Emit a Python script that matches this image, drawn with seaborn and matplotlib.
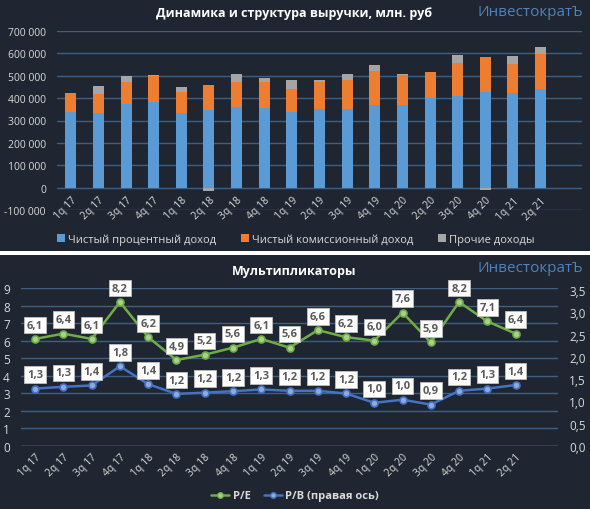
import numpy as np
import pandas as pd
import matplotlib
matplotlib.use("Agg")
import matplotlib.pyplot as plt
from matplotlib.lines import Line2D
from matplotlib.patches import Patch
import seaborn as sns

quarters = ["1q 17", "2q 17", "3q 17", "4q 17", "1q 18", "2q 18", "3q 18", "4q 18",
            "1q 19", "2q 19", "3q 19", "4q 19", "1q 20", "2q 20", "3q 20", "4q 20",
            "1q 21", "2q 21"]
interest_income = [336000, 332000, 374000, 384000, 333000, 348000, 359000, 354000,
                   336000, 351000, 351000, 369000, 369000, 399000, 411000, 426000,
                   421000, 441000]
commission_income = [85000, 86000, 100000, 116000, 96000, 111000, 115000, 120000,
                     105000, 120000, 132000, 150000, 135000, 117000, 146000, 157000,
                     133000, 156000]
other_income = [2000, 38000, 26000, 2000, 19000, -15000, 33000, 15000,
                39000, 12000, 25000, 27000, 3000, 2000, 36000, -10000,
                33000, 33000]
pe_values = [6.1, 6.4, 6.1, 8.2, 6.2, 4.9, 5.2, 5.6, 6.1, 5.6, 6.6, 6.2, 6.0, 7.6,
             5.9, 8.2, 7.1, 6.4]
pb_values = [1.29, 1.33, 1.36, 1.79, 1.39, 1.17, 1.20, 1.23, 1.27, 1.24, 1.24, 1.18,
             0.97, 1.04, 0.93, 1.24, 1.29, 1.37]
series_names = ["Чистый процентный доход", "Чистый комиссионный доход", "Прочие доходы"]
line_names = ["P/E", "P/B (правая ось)"]

BG = "#1f2631"
GRID = "#3f5f80"
TXT = "#d9d9d9"
BLUE = "#5b9bd5"
ORANGE = "#ed7d31"
GRAY = "#a5a5a5"
GREEN = "#70ad47"
LBLUE = "#4472c4"

sns.set_theme(style="dark")
plt.rcParams["font.family"] = ["Open Sans", "DejaVu Sans"]

fig = plt.figure(figsize=(5.9, 5.1), dpi=100)
fig.patch.set_facecolor("white")
# panel backgrounds
fig.add_artist(plt.Rectangle((0, 1 - 252 / 510), 1, 252 / 510, transform=fig.transFigure,
                             facecolor=BG, edgecolor="none", zorder=-10))
fig.add_artist(plt.Rectangle((0, 0), 1, 1 - 256 / 510, transform=fig.transFigure,
                             facecolor=BG, edgecolor="none", zorder=-10))

df = pd.DataFrame({"q": quarters, "interest": interest_income,
                   "commission": commission_income, "other": other_income})
bottom_comm = df["interest"].values
bottom_other = np.where(df["other"].values >= 0,
                        df["interest"].values + df["commission"].values, 0)

# ---------- top chart ----------
ax1 = fig.add_axes([57 / 590, 1 - 211 / 510, (582 - 57) / 590, (211 - 32) / 510])
ax1.set_facecolor(BG)
bar_kw = dict(width=0.4, saturation=1, edgecolor="none", linewidth=0, zorder=3)
sns.barplot(data=df, x="q", y="interest", color=BLUE, ax=ax1, **bar_kw)
sns.barplot(data=df, x="q", y="commission", color=ORANGE, bottom=bottom_comm,
            ax=ax1, **bar_kw)
sns.barplot(data=df, x="q", y="other", color=GRAY, bottom=bottom_other,
            ax=ax1, **bar_kw)
ax1.spines["bottom"].set_position(("data", 0))
for s in ax1.spines.values():
    s.set_color("none")
ax1.set_xlim(-0.5, 18.5)
ax1.set_ylim(-100000, 700000)
yt = np.arange(-100000, 700001, 100000)
ax1.set_yticks(yt)
ax1.set_yticklabels([f"{int(v):,}".replace(",", " ") for v in yt], color=TXT, fontsize=7.5)
ax1.set_xticks(range(len(quarters)))
ax1.set_xticklabels(quarters, rotation=45, ha="right", rotation_mode="anchor",
                    color=TXT, fontsize=7.5)
ax1.set_xlabel("")
ax1.set_ylabel("")
for v in yt:
    ax1.axhline(v, color=GRID, lw=1, zorder=1)
ax1.grid(False)
ax1.tick_params(axis="both", length=0)
ax1.tick_params(axis="x", pad=5, labelcolor=TXT)
ax1.tick_params(axis="y", pad=8)
handles = [Patch(facecolor=c, edgecolor="none") for c in (BLUE, ORANGE, GRAY)]
fig.legend(handles, series_names, loc="center", bbox_to_anchor=(296 / 590, 1 - 240 / 510),
           ncol=3, frameon=False, fontsize=8, labelcolor=TXT, handlelength=0.7,
           handleheight=0.7, handletextpad=0.3, columnspacing=2.2)
fig.text(294 / 590, 1 - 14 / 510, "Динамика и структура выручки, млн. руб", ha="center",
         va="center", color="white", fontsize=9, fontweight="bold")
fig.text(583 / 590, 1 - 13 / 510, "ИнвестократЪ", ha="right", va="center",
         color="#4f82ba", fontsize=11)

# ---------- bottom chart ----------
ax2 = fig.add_axes([21 / 590, 1 - 447 / 510, (558 - 21) / 590, (447 - 289) / 510])
ax2.set_facecolor(BG)
x = np.arange(len(quarters))
for v in range(0, 10):
    ax2.axhline(v, color=(GRID if v > 0 else "#a0a8b0"), lw=1, zorder=1)
sns.lineplot(x=x, y=pe_values, ax=ax2, color=GREEN, lw=1.8, marker="o", markersize=5,
             markerfacecolor="#a9d18e", markeredgecolor=GREEN, markeredgewidth=1.2,
             zorder=4)
ax2.set_xlim(-0.5, 18.5)
ax2.set_ylim(0, 9)
ax2.set_yticks(range(0, 10))
ax2.set_yticklabels([str(v) for v in range(0, 10)], color=TXT, fontsize=8.5)
ax2.set_xticks(x)
ax2.set_xticklabels(quarters, rotation=45, ha="right", rotation_mode="anchor",
                    color=TXT, fontsize=7.5)
ax2.tick_params(axis="both", length=0)
ax2.tick_params(axis="y", pad=8)
ax2.grid(False)
for s in ax2.spines.values():
    s.set_visible(False)

ax3 = ax2.twinx()
sns.lineplot(x=x, y=pb_values, ax=ax3, color=LBLUE, lw=1.8, marker="o", markersize=5,
             markerfacecolor="#8faadc", markeredgecolor=LBLUE, markeredgewidth=1.2,
             zorder=4)
ax3.set_ylim(0, 3.55)
rt = np.arange(0, 3.51, 0.5)
ax3.set_yticks(rt)
ax3.set_yticklabels([f"{v:.1f}".replace(".", ",") for v in rt], color=TXT, fontsize=8.5)
ax3.tick_params(axis="y", length=0, pad=8)
ax3.grid(False)
for s in ax3.spines.values():
    s.set_visible(False)

box = dict(boxstyle="square,pad=0.25", facecolor="white", edgecolor="#bfbfbf", lw=0.6)
for xi, v in zip(x, pe_values):
    ax2.annotate(f"{v:.1f}".replace(".", ","), (xi, v), xytext=(0, 10),
                 textcoords="offset points", ha="center", va="center", fontsize=8,
                 color="#595959", fontweight="bold", bbox=box, zorder=6)
for xi, v in zip(x, pb_values):
    ax3.annotate(f"{v:.1f}".replace(".", ","), (xi, v), xytext=(0, 10),
                 textcoords="offset points", ha="center", va="center", fontsize=8,
                 color="#595959", fontweight="bold", bbox=box, zorder=6)

lh = [Line2D([0], [0], color=GREEN, lw=1.8, marker="o", markersize=4,
             markerfacecolor="#a9d18e", markeredgecolor=GREEN),
      Line2D([0], [0], color=LBLUE, lw=1.8, marker="o", markersize=4,
             markerfacecolor="#8faadc", markeredgecolor=LBLUE)]
fig.legend(lh, line_names, loc="center", bbox_to_anchor=(295 / 590, 1 - 497 / 510),
           ncol=2, frameon=False, labelcolor=TXT, handlelength=1.6,
           handletextpad=0.3, columnspacing=1.2, prop={"weight": "bold", "size": 8})
fig.text(294 / 590, 1 - 271 / 510, "Мультипликаторы", ha="center", va="center",
         color="white", fontsize=9, fontweight="bold")
fig.text(583 / 590, 1 - 268 / 510, "ИнвестократЪ", ha="right", va="center",
         color="#4f82ba", fontsize=11)

fig.savefig("out.png", dpi=100, facecolor=fig.get_facecolor())
